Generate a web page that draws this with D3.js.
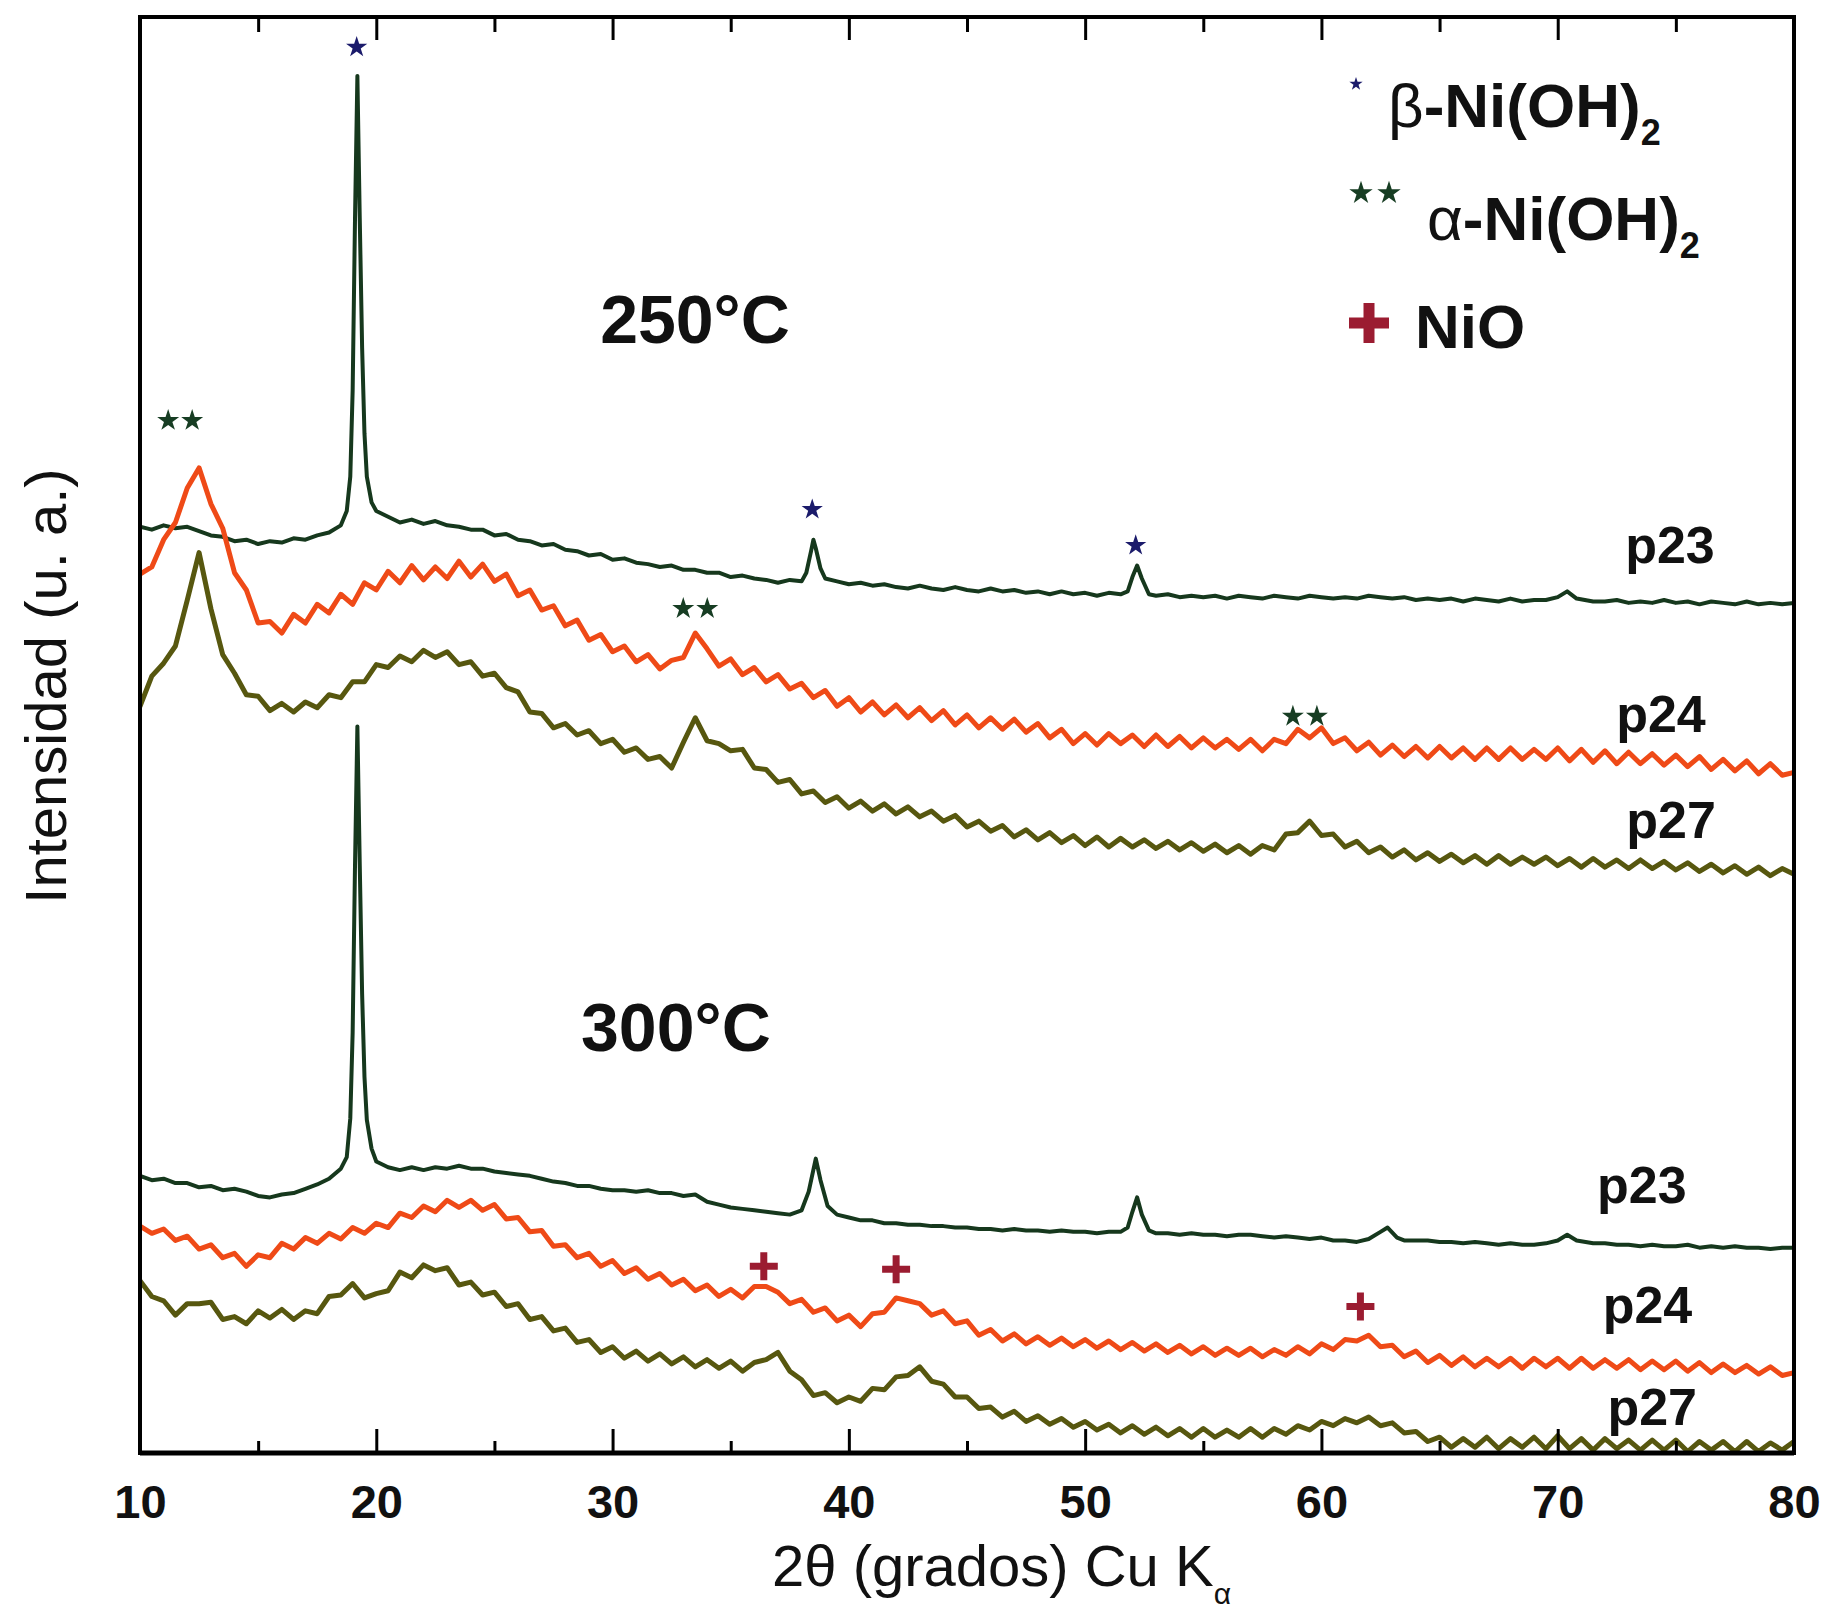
<!DOCTYPE html>
<html lang="es">
<head>
  <meta charset="UTF-8">
  <title>DRX p23 p24 p27 a 250 y 300 ºC</title>
  <script src="https://d3js.org/d3.v7.min.js"></script>
  <style>
    body { margin: 0; background: #fff; }
    svg { display: block; font-family: "Liberation Sans", Arial, sans-serif; }
    .tick text { font-size: 47px; font-weight: bold; fill: #111; }
    .tick line { stroke: #000; stroke-width: 3px; }
    .axis-title { font-size: 58px; fill: #111; }
    .series-label { font-size: 52px; font-weight: bold; fill: #111; text-anchor: middle; }
    .temp-label { font-size: 68px; font-weight: bold; fill: #111; text-anchor: middle; }
    .legend text { font-size: 62px; font-weight: bold; fill: #111; }
    .trace { fill: none; stroke-linejoin: round; stroke-linecap: round; }
  </style>
</head>
<body>
<svg width="1825" height="1613"></svg>
<script>
  const width = 1825;
  const height = 1613;
  const margin = {top: 17, right: 31, bottom: 160, left: 140};

  // eje x: 2theta, de 10 a 80 grados
  const majorTicks = [10, 20, 30, 40, 50, 60, 70, 80];
  const minorTicks = [15, 25, 35, 45, 55, 65, 75];

  // curvas con picos agudos (p23): pares [2theta, intensidad u.a.]
  const p23_250 = [
    [10.0,64.5],[10.5,64.3],[11.0,64.6],[11.5,64.4],[12.0,64.5],[12.5,64.2],[13.0,63.9],[13.5,63.8],
    [14.0,63.5],[14.5,63.6],[15.0,63.3],[15.5,63.5],[16.0,63.4],[16.5,63.7],[17.0,63.6],[17.5,63.9],
    [18.0,64.1],[18.5,64.6],[18.75,65.6],[18.9,68],[19.0,74],[19.1,86],[19.2,95.9],[19.3,86],
    [19.4,77],[19.5,71],[19.6,68],[19.8,66.2],[20.0,65.6],[20.5,65.2],[21.0,64.8],[21.5,65.0],
    [22.0,64.7],[22.5,64.9],[23.0,64.6],[23.5,64.5],[24.0,64.3],[24.5,64.3],[25.0,63.9],[25.5,64.0],
    [26.0,63.6],[26.5,63.5],[27.0,63.2],[27.5,63.3],[28.0,62.9],[28.5,62.8],[29.0,62.5],[29.5,62.6],
    [30.0,62.2],[30.5,62.3],[31.0,62.0],[31.5,61.9],[32.0,61.7],[32.5,61.8],[33.0,61.5],[33.5,61.5],
    [34.0,61.3],[34.5,61.3],[35.0,61.0],[35.5,61.1],[36.0,60.9],[36.5,60.8],[37.0,60.6],[37.5,60.8],
    [38.0,60.7],[38.2,61.3],[38.4,62.8],[38.5,63.6],[38.6,63.0],[38.8,61.6],[39.0,60.9],[39.5,60.7],
    [40.0,60.5],[40.5,60.6],[41.0,60.4],[41.5,60.5],[42.0,60.3],[42.5,60.2],[43.0,60.4],[43.5,60.2],
    [44.0,60.1],[44.5,60.3],[45.0,60.1],[45.5,60.0],[46.0,60.2],[46.5,60.0],[47.0,60.1],[47.5,59.9],
    [48.0,60.0],[48.5,59.8],[49.0,60.0],[49.5,59.8],[50.0,59.9],[50.5,59.7],[51.0,59.9],[51.5,59.8],
    [51.8,60.0],[52.0,61.0],[52.2,61.8],[52.4,60.9],[52.7,59.8],[53.0,59.7],[53.5,59.8],[54.0,59.6],
    [54.5,59.7],[55.0,59.6],[55.5,59.7],[56.0,59.5],[56.5,59.7],[57.0,59.6],[57.5,59.5],[58.0,59.7],
    [58.5,59.6],[59.0,59.5],[59.5,59.7],[60.0,59.6],[60.5,59.5],[61.0,59.6],[61.5,59.5],[62.0,59.7],
    [62.5,59.6],[63.0,59.5],[63.5,59.6],[64.0,59.4],[64.5,59.5],[65.0,59.4],[65.5,59.5],[66.0,59.3],
    [66.5,59.5],[67.0,59.4],[67.5,59.3],[68.0,59.5],[68.5,59.3],[69.0,59.4],[69.5,59.4],[70.0,59.6],
    [70.4,60.0],[70.8,59.5],[71.5,59.3],[72.0,59.3],[72.5,59.4],[73.0,59.2],[73.5,59.3],[74.0,59.2],
    [74.5,59.4],[75.0,59.2],[75.5,59.3],[76.0,59.1],[76.5,59.3],[77.0,59.2],[77.5,59.1],[78.0,59.3],
    [78.5,59.1],[79.0,59.2],[79.5,59.1],[80.0,59.2]
  ];

  const p23_300 = [
    [10.0,19.3],[10.5,19.0],[11.0,19.1],[11.5,18.8],[12.0,18.8],[12.5,18.5],[13.0,18.6],[13.5,18.3],
    [14.0,18.4],[14.5,18.2],[15.0,17.9],[15.5,17.8],[16.0,18.0],[16.5,18.1],[17.0,18.4],[17.5,18.7],
    [18.0,19.1],[18.5,19.8],[18.75,20.6],[18.9,23.3],[19.0,29.3],[19.1,41.0],[19.2,50.6],[19.3,41.0],
    [19.4,32.0],[19.5,26.2],[19.6,23.2],[19.8,21.2],[20.0,20.3],[20.5,19.9],[21.0,19.7],[21.5,19.9],
    [22.0,19.7],[22.5,19.9],[23.0,19.8],[23.5,20.0],[24.0,19.8],[24.5,19.8],[25.0,19.6],[25.5,19.5],
    [26.0,19.4],[26.5,19.3],[27.0,19.1],[27.5,18.9],[28.0,18.8],[28.5,18.6],[29.0,18.6],[29.5,18.4],
    [30.0,18.3],[30.5,18.3],[31.0,18.2],[31.5,18.3],[32.0,18.1],[32.5,18.1],[33.0,17.9],[33.5,18.0],
    [34.0,17.5],[34.5,17.3],[35.0,17.1],[35.5,17.0],[36.0,16.9],[36.5,16.8],[37.0,16.7],[37.5,16.6],
    [38.0,16.9],[38.3,18.2],[38.6,20.5],[38.8,19.0],[39.1,17.2],[39.5,16.6],[40.0,16.4],[40.5,16.2],
    [41.0,16.2],[41.5,16.0],[42.0,16.0],[42.5,15.9],[43.0,15.9],[43.5,15.8],[44.0,15.8],[44.5,15.7],
    [45.0,15.7],[45.5,15.6],[46.0,15.6],[46.5,15.5],[47.0,15.6],[47.5,15.5],[48.0,15.5],[48.5,15.4],
    [49.0,15.5],[49.5,15.4],[50.0,15.4],[50.5,15.3],[51.0,15.4],[51.5,15.4],[51.8,15.7],[52.0,16.8],
    [52.2,17.8],[52.4,16.6],[52.7,15.5],[53.0,15.3],[53.5,15.3],[54.0,15.2],[54.5,15.3],[55.0,15.2],
    [55.5,15.2],[56.0,15.1],[56.5,15.2],[57.0,15.2],[57.5,15.1],[58.0,15.0],[58.5,15.1],[59.0,15.0],
    [59.5,14.9],[60.0,15.0],[60.5,14.8],[61.0,14.8],[61.5,14.7],[62.0,14.9],[62.5,15.4],[62.8,15.7],
    [63.2,15.0],[63.5,14.8],[64.0,14.8],[64.5,14.8],[65.0,14.7],[65.5,14.7],[66.0,14.6],[66.5,14.7],
    [67.0,14.6],[67.5,14.5],[68.0,14.6],[68.5,14.5],[69.0,14.5],[69.5,14.6],[70.0,14.8],[70.4,15.2],
    [70.8,14.8],[71.5,14.6],[72.0,14.6],[72.5,14.5],[73.0,14.5],[73.5,14.4],[74.0,14.5],[74.5,14.4],
    [75.0,14.4],[75.5,14.5],[76.0,14.3],[76.5,14.4],[77.0,14.3],[77.5,14.4],[78.0,14.3],[78.5,14.3],
    [79.0,14.2],[79.5,14.3],[80.0,14.3]
  ];

  // curvas ruidosas (p24, p27): una intensidad cada 0.5 grados desde 10 hasta 80
  const p24_250 = [
    61.2,61.7,63.6,64.8,67.2,68.6,66.1,64.4,61.3,60.1,57.8,57.9,57.1,58.4,57.8,59.1,58.5,59.8,59.1,60.6,
    60.1,61.4,60.6,61.8,60.8,61.7,60.9,62.1,61.0,61.9,60.7,61.2,59.7,60.1,58.7,59.0,57.6,58.0,56.6,57.0,
    55.8,56.2,55.1,55.6,54.6,55.2,55.4,57.1,56.0,54.8,55.3,54.2,54.7,53.7,54.2,53.2,53.6,52.6,53.1,52.0,
    52.6,51.6,52.3,51.4,52.1,51.2,51.9,51.0,51.7,50.7,51.4,50.5,51.2,50.4,51.1,50.2,50.8,49.8,50.4,49.4,
    50.1,49.3,50.1,49.4,50.0,49.2,50.0,49.2,49.9,49.1,49.8,49.1,49.7,49.0,49.7,48.9,49.7,49.4,50.4,49.8,
    50.5,49.4,49.8,48.9,49.5,48.6,49.3,48.5,49.2,48.4,49.2,48.4,49.1,48.3,49.1,48.3,49.1,48.3,49.0,48.3,
    49.1,48.2,49.0,48.1,48.9,48.0,48.8,48.0,48.7,47.9,48.6,47.8,48.5,47.6,48.3,47.5,48.2,47.3,48.0,47.2,
    47.4
  ];

  const p27_250 = [
    52.0,54.1,55.0,56.2,59.4,62.7,58.8,55.6,54.3,52.8,52.7,51.7,52.2,51.6,52.3,51.9,52.8,52.6,53.7,53.7,
    54.9,54.7,55.5,55.1,55.9,55.4,55.8,54.9,55.1,54.1,54.3,53.3,53.0,51.6,51.5,50.5,50.8,50.0,50.3,49.4,
    49.7,48.8,49.1,48.3,48.5,47.7,49.5,51.2,49.6,49.4,48.9,49.0,47.7,47.6,46.7,46.9,45.9,46.1,45.3,45.7,
    44.9,45.4,44.7,45.2,44.5,45.0,44.3,44.7,44.0,44.4,43.6,44.0,43.3,43.7,42.9,43.4,42.7,43.2,42.5,43.0,
    42.3,42.9,42.2,42.8,42.2,42.7,42.1,42.6,42.0,42.5,41.9,42.4,41.8,42.3,41.7,42.3,42.0,43.1,43.2,44.0,
    43.0,43.1,42.2,42.6,41.8,42.2,41.5,42.0,41.3,41.8,41.2,41.7,41.1,41.6,41.0,41.6,41.0,41.5,41.0,41.5,
    40.9,41.4,40.8,41.4,40.8,41.3,40.7,41.3,40.7,41.2,40.6,41.1,40.5,41.0,40.4,40.9,40.3,40.8,40.2,40.7,
    40.3
  ];

  const p24_300 = [
    15.8,15.3,15.6,14.8,15.1,14.2,14.5,13.6,13.9,13.0,13.8,13.6,14.6,14.2,15.0,14.6,15.3,14.9,15.7,15.3,
    16.0,15.7,16.7,16.4,17.2,16.8,17.6,17.1,17.6,16.9,17.3,16.3,16.4,15.4,15.5,14.4,14.5,13.6,13.9,13.0,
    13.4,12.5,12.9,12.1,12.5,11.7,12.1,11.3,11.7,10.9,11.4,10.8,11.6,11.6,11.2,10.4,10.7,9.8,10.1,9.2,
    9.6,8.8,9.7,9.8,10.8,10.6,10.4,9.6,9.9,9.0,9.2,8.2,8.6,7.8,8.3,7.6,8.1,7.5,8.0,7.4,
    7.9,7.3,7.8,7.2,7.7,7.1,7.6,7.0,7.5,6.9,7.4,6.8,7.3,6.8,7.3,6.7,7.2,6.8,7.4,6.9,
    7.6,7.2,7.9,7.8,8.2,7.4,7.5,6.7,7.1,6.3,6.8,6.1,6.7,6.0,6.6,6.0,6.6,5.9,6.6,6.0,
    6.6,5.9,6.6,5.9,6.5,5.9,6.5,5.8,6.4,5.8,6.4,5.7,6.3,5.6,6.2,5.6,6.1,5.5,6.0,5.4,
    5.6
  ];

  const p27_300 = [
    12.0,10.9,10.6,9.6,10.4,10.4,10.5,9.3,9.5,9.0,9.9,9.4,10.0,9.3,9.9,9.7,10.9,11.0,11.8,10.8,
    11.1,11.3,12.6,12.2,13.1,12.7,12.9,11.7,11.9,11.0,11.2,10.2,10.4,9.3,9.5,8.5,8.7,7.7,7.9,7.0,
    7.4,6.6,7.1,6.4,6.9,6.2,6.7,6.0,6.5,5.9,6.4,5.7,6.3,6.5,7.0,5.7,5.1,4.0,4.2,3.5,
    3.9,3.6,4.5,4.4,5.3,5.4,6.0,5.0,4.8,3.9,3.9,3.1,3.2,2.5,2.9,2.2,2.6,2.0,2.4,1.8,
    2.2,1.6,2.0,1.4,1.9,1.3,1.8,1.2,1.7,1.1,1.7,1.1,1.6,1.1,1.7,1.1,1.7,1.3,1.9,1.6,
    2.2,1.9,2.4,2.1,2.5,1.9,2.1,1.4,1.5,0.8,1.1,0.4,1.0,0.4,1.1,0.3,1.0,0.4,1.1,0.3,
    1.2,0.3,1.0,0.2,1.0,0.3,0.9,0.2,0.9,0.2,0.9,0.1,0.8,0.2,0.8,0.1,0.8,0.1,0.7,0.2,
    0.8
  ];

  // marcas de fase sobre los picos: [2theta, intensidad]
  const betaMarks = [[19.17, 97.9], [38.45, 65.7], [52.14, 63.2]];
  const alphaMarks = [[11.7, 71.9], [33.5, 58.8], [59.3, 51.3]];
  const nioMarks = [[36.4, 13.0], [42.0, 12.8], [61.65, 10.2]];

  // etiquetas de muestra: [texto, 2theta, intensidad]
  const sampleLabels = [
    ["p23", 74.75, 62.0], ["p24", 74.37, 50.2], ["p27", 74.8, 42.8],
    ["p23", 73.56, 17.4], ["p24", 73.8, 9.05], ["p27", 74.0, 1.95]
  ];
  const tempLabels = [["250°C", 33.49, 77.3], ["300°C", 32.68, 28.0]];

  const colP23 = "#16381d";
  const colP24 = "#ef4a17";
  const colP27 = "#57570f";
  const colBeta = "#1b1b6b";
  const colAlpha = "#173d23";
  const colNiO = "#9b1c31";

  const grid = d3.range(0, 141).map(i => 10 + i * 0.5);
  const onGrid = vals => vals.map((v, i) => [grid[i], v]);

  const svg = d3.select("svg")
          .attr("width", width)
          .attr("height", height);

  svg.append("rect").attr("width", width).attr("height", height).attr("fill", "#fff");

  const x = d3.scaleLinear().domain([10, 80]).range([margin.left, width - margin.right]);
  const y = d3.scaleLinear().domain([0, 100]).range([height - margin.bottom, margin.top]);

  svg.append("clipPath").attr("id", "plot-clip")
          .append("rect")
          .attr("x", x(10)).attr("y", y(100))
          .attr("width", x(80) - x(10)).attr("height", y(0) - y(100));

  const line = d3.line().x(d => x(d[0])).y(d => y(d[1]));

  const series = [
    {pts: p23_250, color: colP23, w: 4},
    {pts: onGrid(p24_250), color: colP24, w: 5},
    {pts: onGrid(p27_250), color: colP27, w: 5},
    {pts: p23_300, color: colP23, w: 4},
    {pts: onGrid(p24_300), color: colP24, w: 5},
    {pts: onGrid(p27_300), color: colP27, w: 5}
  ];

  svg.append("g")
          .attr("clip-path", "url(#plot-clip)")
          .selectAll("path")
          .data(series)
          .join("path")
          .attr("class", "trace")
          .attr("d", d => line(d.pts))
          .attr("stroke", d => d.color)
          .attr("stroke-width", d => d.w);

  // ejes con marcas hacia dentro
  const bottom = svg.append("g")
          .attr("transform", `translate(0,${y(0)})`)
          .call(d3.axisBottom(x).tickValues(majorTicks).tickSizeInner(-24).tickSizeOuter(0)
                  .tickPadding(32).tickFormat(d3.format("d")));
  bottom.select(".domain").remove();

  svg.append("g")
          .attr("transform", `translate(0,${y(0)})`)
          .call(d3.axisBottom(x).tickValues(minorTicks).tickSize(-12).tickFormat(""))
          .select(".domain").remove();

  svg.append("g")
          .attr("transform", `translate(0,${y(100)})`)
          .call(d3.axisTop(x).tickValues(majorTicks).tickSize(-23).tickFormat(""))
          .select(".domain").remove();

  svg.append("g")
          .attr("transform", `translate(0,${y(100)})`)
          .call(d3.axisTop(x).tickValues(minorTicks).tickSize(-15).tickFormat(""))
          .select(".domain").remove();

  svg.append("rect")
          .attr("x", x(10)).attr("y", y(100))
          .attr("width", x(80) - x(10)).attr("height", y(0) - y(100))
          .attr("fill", "none").attr("stroke", "#000").attr("stroke-width", 4);

  svg.append("line")
          .attr("x1", x(10)).attr("x2", x(80))
          .attr("y1", y(0)).attr("y2", y(0))
          .attr("stroke", "#000").attr("stroke-width", 5);

  // titulos de ejes
  const xTitle = svg.append("text")
          .attr("class", "axis-title")
          .attr("x", 772)
          .attr("y", 1586);
  xTitle.append("tspan").text("2θ (grados) Cu K");
  xTitle.append("tspan").attr("font-size", 30).attr("dy", 18).text("α");

  svg.append("text")
          .attr("class", "axis-title")
          .attr("text-anchor", "middle")
          .attr("transform", "translate(66,686) rotate(-90)")
          .text("Intensidad (u. a.)");

  // marcas de fases
  const star = (size) => d3.symbol(d3.symbolStar, size)();

  svg.append("g").selectAll("path")
          .data(betaMarks)
          .join("path")
          .attr("d", star(140))
          .attr("fill", colBeta)
          .attr("transform", d => `translate(${x(d[0])},${y(d[1])})`);

  svg.append("g").selectAll("path")
          .data(alphaMarks.flatMap(d => [[d, -12], [d, 12]]))
          .join("path")
          .attr("d", star(150))
          .attr("fill", colAlpha)
          .attr("transform", d => `translate(${x(d[0][0]) + d[1]},${y(d[0][1])})`);

  const plus = (size) => `M${-size / 2},0H${size / 2}M0,${-size / 2}V${size / 2}`;

  svg.append("g").selectAll("path")
          .data(nioMarks)
          .join("path")
          .attr("d", plus(28))
          .attr("stroke", colNiO)
          .attr("stroke-width", 7)
          .attr("fill", "none")
          .attr("transform", d => `translate(${x(d[0])},${y(d[1])})`);

  // etiquetas
  svg.append("g").selectAll("text")
          .data(sampleLabels)
          .join("text")
          .attr("class", "series-label")
          .attr("x", d => x(d[1]))
          .attr("y", d => y(d[2]))
          .text(d => d[0]);

  svg.append("g").selectAll("text")
          .data(tempLabels)
          .join("text")
          .attr("class", "temp-label")
          .attr("x", d => x(d[1]))
          .attr("y", d => y(d[2]))
          .text(d => d[0]);

  // leyenda
  const legend = svg.append("g").attr("class", "legend");

  legend.append("path").attr("d", star(55)).attr("fill", colBeta)
          .attr("transform", "translate(1356,84)");
  const tBeta = legend.append("text").attr("x", 1388).attr("y", 127);
  tBeta.append("tspan").attr("font-weight", "normal").text("β");
  tBeta.append("tspan").text("-Ni(OH)");
  tBeta.append("tspan").attr("font-size", 36).attr("dy", 18).text("2");

  legend.append("path").attr("d", star(170)).attr("fill", colAlpha)
          .attr("transform", "translate(1361,193)");
  legend.append("path").attr("d", star(170)).attr("fill", colAlpha)
          .attr("transform", "translate(1389,193)");
  const tAlpha = legend.append("text").attr("x", 1427).attr("y", 240);
  tAlpha.append("tspan").attr("font-weight", "normal").text("α");
  tAlpha.append("tspan").text("-Ni(OH)");
  tAlpha.append("tspan").attr("font-size", 36).attr("dy", 18).text("2");

  legend.append("path").attr("d", plus(40))
          .attr("stroke", colNiO).attr("stroke-width", 11).attr("fill", "none")
          .attr("transform", "translate(1369,323)");
  legend.append("text").attr("x", 1415).attr("y", 348).text("NiO");
</script>
</body>
</html>
